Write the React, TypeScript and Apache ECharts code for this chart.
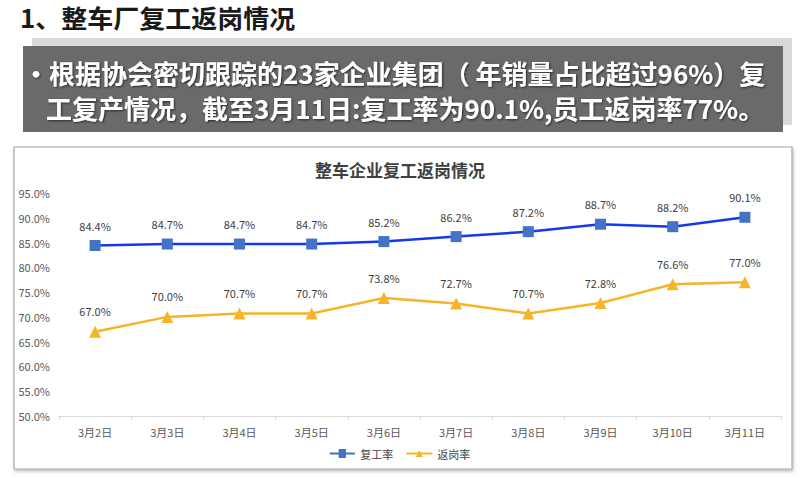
import React, { useEffect, useRef } from "react";
import * as echarts from "echarts";

const categories = ["3月2日", "3月3日", "3月4日", "3月5日", "3月6日", "3月7日", "3月8日", "3月9日", "3月10日", "3月11日"];
const resumeRate = [84.4, 84.7, 84.7, 84.7, 85.2, 86.2, 87.2, 88.7, 88.2, 90.1];
const returnRate = [67.0, 70.0, 70.7, 70.7, 73.8, 72.7, 70.7, 72.8, 76.6, 77.0];
const seriesNames = ["复工率", "返岗率"];
const pageTitle = "1、整车厂复工返岗情况";
const boxLine1 = "·根据协会密切跟踪的23家企业集团（ 年销量占比超过96%）复";
const boxLine2 = "工复产情况，截至3月11日:复工率为90.1%,员工返岗率77%。";
const chartTitle = "整车企业复工返岗情况";

const FONT = "'Noto Sans CJK SC', 'Noto Sans', sans-serif";

export default function App() {
  const ref = useRef<HTMLDivElement>(null);
  useEffect(() => {
    if (!ref.current) return;
    const chart = echarts.init(ref.current, null, { renderer: "svg" });
    const boxText = {
      fontSize: 26,
      fontWeight: "bold",
      fill: "#ffffff",
      fontFamily: FONT,
      verticalAlign: "middle",
      textShadowColor: "rgba(0,0,0,0.6)",
      textShadowBlur: 2,
      textShadowOffsetX: 1,
      textShadowOffsetY: 1,
    };
    chart.setOption({
      animation: false,
      backgroundColor: "#ffffff",
      textStyle: { fontFamily: FONT },
      graphic: [
        {
          type: "text",
          x: 20,
          y: 17,
          z: 10,
          scaleX: 1.04,
          style: { text: pageTitle, fontSize: 25, fontWeight: "bold", fill: "#1a1a1a", fontFamily: FONT, verticalAlign: "middle" },
        },
        {
          type: "rect",
          shape: { x: 32, y: 38, width: 760, height: 87 },
          style: { fill: "#d9d9d9" },
          z: 1,
        },
        {
          type: "rect",
          shape: { x: 23, y: 46, width: 760, height: 86 },
          style: { fill: "#6a6a6a" },
          z: 2,
        },
        { type: "text", x: 23, y: 72, z: 10, style: { ...boxText, text: boxLine1 } },
        { type: "text", x: 46, y: 107, z: 10, style: { ...boxText, text: boxLine2 } },
        {
          type: "rect",
          shape: { x: 14, y: 147, width: 778, height: 322 },
          style: {
            fill: "#ffffff",
            stroke: "#a6a6a6",
            lineWidth: 1.2,
            shadowColor: "rgba(0,0,0,0.25)",
            shadowBlur: 3,
            shadowOffsetX: 1,
            shadowOffsetY: 2,
          },
          z: -10,
        },
      ],
      title: {
        text: chartTitle,
        left: "center",
        top: 156,
        textStyle: { fontSize: 17, fontWeight: "bold", color: "#404040", fontFamily: FONT },
      },
      legend: {
        data: [
          { name: seriesNames[0], icon: "path://M0,4 L10,4 L10,0 L18,0 L18,4 L28,4 L28,6 L18,6 L18,10 L10,10 L10,6 L0,6 Z" },
          { name: seriesNames[1] },
        ],
        bottom: 14,
        left: "center",
        itemWidth: 26,
        itemHeight: 9,
        itemGap: 12,
        textStyle: { fontSize: 11, color: "#404040", fontFamily: FONT },
      },
      grid: { left: 59, right: 19, top: 193, bottom: 62, containLabel: false },
      xAxis: {
        type: "category",
        data: categories,
        boundaryGap: true,
        axisLine: { lineStyle: { color: "#d9d9d9", width: 1 } },
        axisTick: { show: true, lineStyle: { color: "#d9d9d9" }, length: 4 },
        axisLabel: { fontSize: 11, color: "#595959", margin: 10, fontFamily: FONT },
      },
      yAxis: {
        type: "value",
        min: 50,
        max: 95,
        interval: 5,
        axisLine: { show: false },
        axisTick: { show: false },
        splitLine: { show: false },
        axisLabel: {
          fontSize: 11,
          color: "#595959",
          margin: 9,
          fontFamily: FONT,
          formatter: (v: number) => v.toFixed(1) + "%",
        },
      },
      series: [
        {
          name: seriesNames[0],
          type: "line",
          data: resumeRate,
          symbol: "rect",
          symbolSize: 11,
          lineStyle: { color: "#1438f0", width: 2.5 },
          itemStyle: { color: "#4472c4" },
          label: {
            show: true,
            position: "top",
            distance: 9,
            fontSize: 11,
            color: "#404040",
            formatter: (p: any) => p.value.toFixed(1) + "%",
          },
        },
        {
          name: seriesNames[1],
          type: "line",
          data: returnRate,
          symbol: "triangle",
          symbolSize: 12,
          lineStyle: { color: "#f5b52a", width: 2.5 },
          itemStyle: { color: "#f5b52a" },
          label: {
            show: true,
            position: "top",
            distance: 9,
            fontSize: 11,
            color: "#404040",
            formatter: (p: any) => p.value.toFixed(1) + "%",
          },
        },
      ],
    });
    return () => chart.dispose();
  }, []);
  return <div ref={ref} style={{ position: "absolute", left: 0, top: 0, width: 800, height: 478 }} />;
}
